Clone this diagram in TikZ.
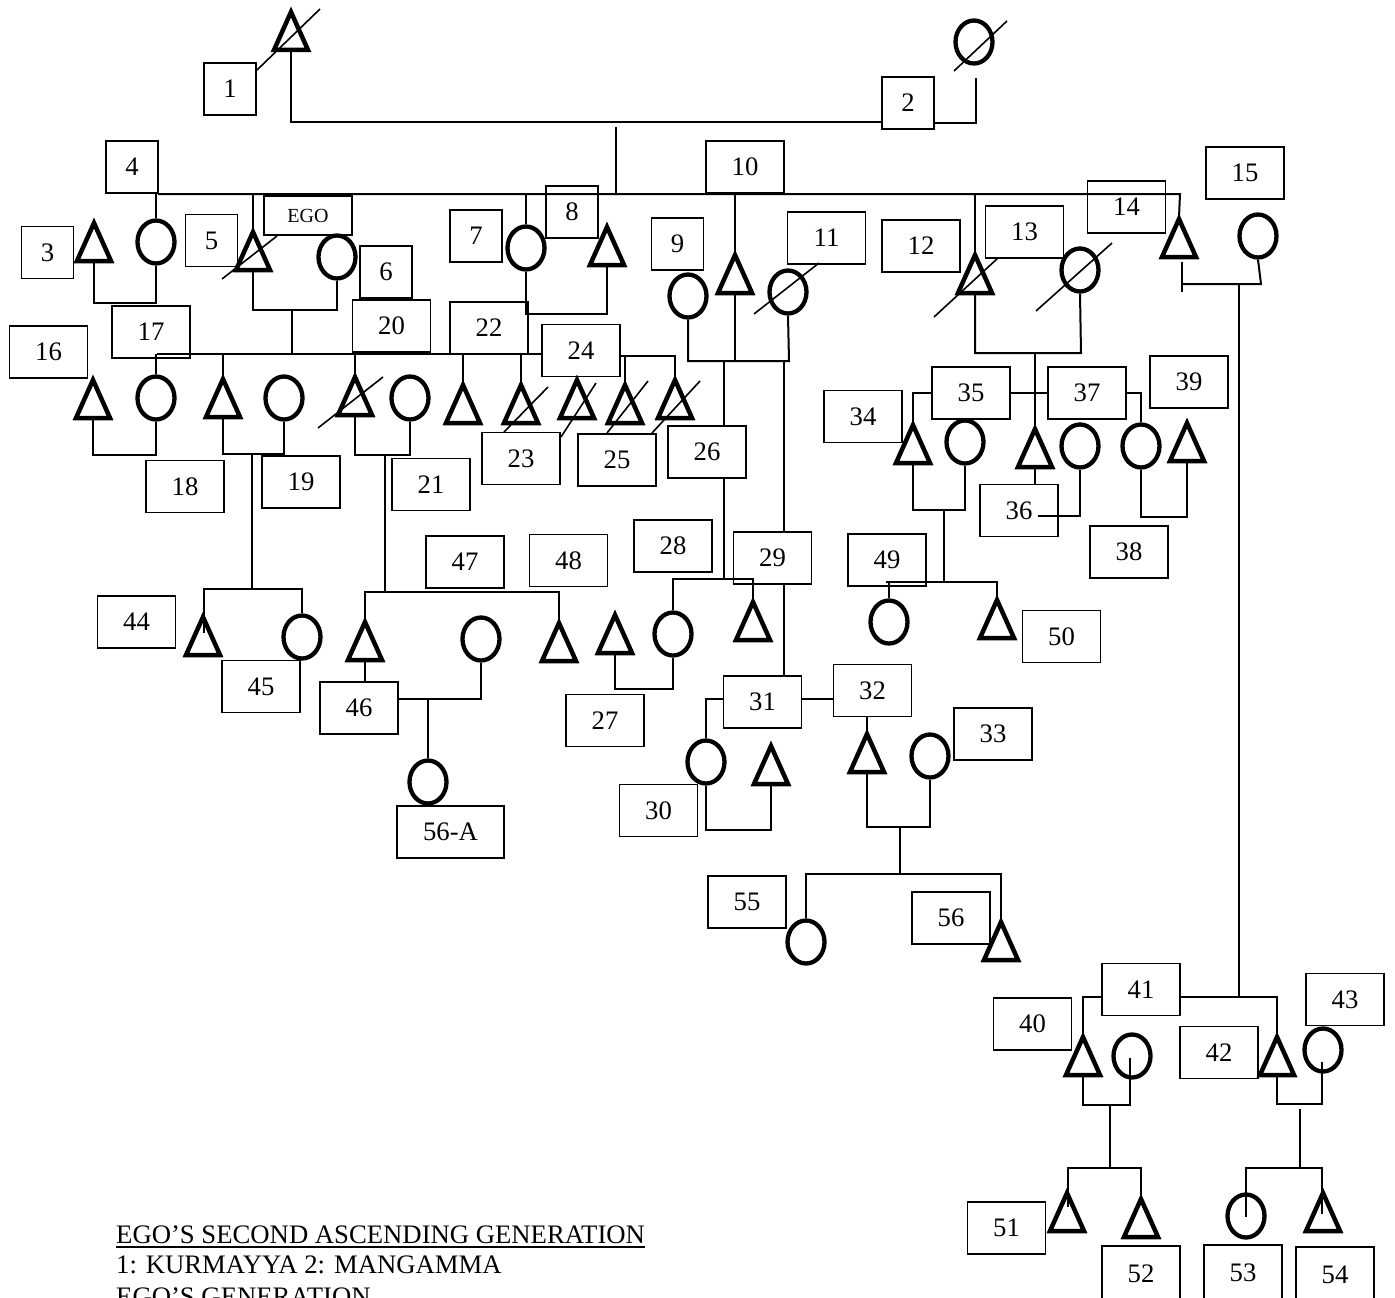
\documentclass[tikz,border=0pt]{standalone}
\usepackage{fontspec}
\setmainfont{Liberation Serif}
\usetikzlibrary{shapes.geometric}
\tikzset{
  kinbox/.style={draw, line width=1.6pt, inner sep=0pt, minimum width=78pt,
    minimum height=52pt, font=\fontsize{26.7}{30}\selectfont},
  sqbox/.style={kinbox, minimum width=52pt},
  femnode/.style={draw, ellipse, line width=4.3pt, inner sep=0pt,
    minimum width=37pt, minimum height=43pt},
  malepath/.style={line width=4.5pt},
  tie/.style={line width=2pt},
  slash/.style={line width=1.6pt},
  captext/.style={anchor=base west, inner sep=0pt, font=\fontsize{26.7}{30}\selectfont}
}
% male triangle: name, centre x, base y
\newcommand{\maletri}[3]{%
  \draw[malepath] (#2-17,#3-2) -- (#2,#3-40) -- (#2+17,#3-2) -- cycle;
  \coordinate (#1) at (#2,#3);
  \coordinate (#1 top) at (#2,#3-42);}

\begin{document}
\begin{tikzpicture}[x=1pt, y=-1pt]
\useasboundingbox (0,0) rectangle (1395,1298);

% Second ascending generation
\maletri{t1}{291}{52}
\node[femnode] (c2) at (974,42) {};
\draw[slash] (257,70) -- (320,9);
\draw[slash] (954,71) -- (1007,21);
\node[sqbox] (b1) at (230,89) {1};
\node[sqbox] (b2) at (908,103) {2};
\draw[tie] (t1) -- (291,122) -- (882,122);
\draw[tie] (934,123) -- (976,123) -- (976,78);
\draw[tie] (616,127) -- (616,194);

% First ascending generation
\node[sqbox] (b3) at (47.5,252.5) {3};
\node[sqbox] (b4) at (132,167) {4};
\node[sqbox] (b5) at (211.5,240.5) {5};
\node[kinbox, minimum width=88pt, minimum height=39pt,
  font=\fontsize{20}{22}\selectfont] (bego) at (308,215.5) {EGO};
\node[sqbox] (b6) at (386,272) {6};
\node[sqbox] (b7) at (476,236) {7};
\node[sqbox] (b8) at (572,212) {8};
\node[sqbox] (b9) at (677.5,244) {9};
\node[kinbox] (b10) at (745,167) {10};
\node[kinbox] (b11) at (826.5,238) {11};
\node[kinbox] (b12) at (921,246) {12};
\node[kinbox] (b13) at (1024.5,232) {13};
\node[kinbox] (b14) at (1126.5,207) {14};
\node[kinbox] (b15) at (1245,173) {15};
\maletri{t3}{94}{263}
\node[femnode] (c4) at (156,242) {};
\maletri{t5}{253}{272}
\node[femnode] (c6) at (337,257) {};
\node[femnode] (c7) at (526,248) {};
\maletri{t8}{607}{267}
\node[femnode] (c9) at (688,296) {};
\maletri{t10}{735}{295}
\node[femnode] (c11) at (788,292) {};
\maletri{t12}{975}{295}
\node[femnode] (c13) at (1080,270) {};
\maletri{t14}{1179}{259}
\node[femnode] (c15) at (1258,236) {};
\draw[slash] (222,279) -- (277,236);
\draw[slash] (754,314) -- (819,263);
\draw[slash] (934,317) -- (998,258);
\draw[slash] (1036,311) -- (1112,243);
% sibling line
\draw[tie] (158,194) -- (1180,194) -- (t14 top);
\draw[tie] (156,194) -- (c4.north);
\draw[tie] (253,194) -- (t5 top);
\draw[tie] (526,194) -- (c7.north);
\draw[tie] (735,194) -- (t10 top);
\draw[tie] (975,194) -- (t12 top);
% couples
\draw[tie] (t3) -- ++(0,40) -| (c4.south);
\draw[tie] (t5) -- ++(0,38) -| (c6.south);
\draw[tie] (292,311) -- (292,354);
\draw[tie] (c7.south) -- ++(0,42) -| (t8);
\draw[tie] (c9.south) -- (688,361) -- (789,361) -- (c11.south);
\draw[tie] (t10) -- (735,361);
\draw[tie] (t12) -- (975,353) -- (1081,353) -- (c13.south);
\draw[tie] (1182,262) -- (1182,292);
\draw[tie] (1182,284) -- (1261,284) -- (c15.south);
\draw[tie] (1239,284) -- (1239,997);

% Ego's generation
\node[kinbox] (b16) at (48.5,352) {16};
\node[kinbox] (b17) at (151,332) {17};
\node[kinbox] (b18) at (185,486.5) {18};
\node[kinbox] (b19) at (301,482) {19};
\node[kinbox] (b20) at (391.5,326) {20};
\node[kinbox] (b21) at (431,484.5) {21};
\node[kinbox] (b22) at (489,328) {22};
\node[kinbox] (b23) at (521,458.5) {23};
\node[kinbox] (b24) at (581,350.5) {24};
\node[kinbox] (b25) at (617,460) {25};
\node[kinbox] (b26) at (707,452) {26};
\maletri{t16}{93}{420}
\node[femnode] (c17) at (156,398) {};
\maletri{t18}{223}{419}
\node[femnode] (c19) at (284,398) {};
\maletri{t20}{355}{417}
\node[femnode] (c21) at (410,398) {};
\maletri{t22}{463}{425}
\maletri{t23}{521}{425}
\maletri{t24}{577}{420}
\maletri{t25}{625}{425}
\maletri{t26}{675}{420}
\draw[slash] (318,428) -- (383,377);
\draw[slash] (504,432) -- (548,387);
\draw[slash] (561,437) -- (596,383);
\draw[slash] (607,433) -- (648,381);
\draw[slash] (652,433) -- (700,381);
\draw[tie] (157,354) -- (542,354);
\draw[tie] (156,354) -- (c17.north);
\draw[tie] (223,354) -- (t18 top);
\draw[tie] (355,354) -- (t20 top);
\draw[tie] (463,354) -- (t22 top);
\draw[tie] (521,354) -- (t23 top);
\draw[tie] (620,356) -- (675,356) -- (t26 top);
\draw[tie] (625,356) -- (t25 top);
\draw[tie] (t16) -- ++(0,35) -| (c17.south);
\draw[tie] (t18) -- ++(0,35) -| (c19.south);
\draw[tie] (252,454) -- (252,589);
\draw[tie] (t20) -- ++(0,38) -| (c21.south);
\draw[tie] (385,455) -- (385,592);
\draw[tie] (724,361) -- (724,426);
\draw[tie] (724,478) -- (724,579);
\draw[tie] (784,361) -- (784,532);
\draw[tie] (784,584) -- (784,676);

% right branch
\node[kinbox] (b34) at (863,416.5) {34};
\node[kinbox] (b35) at (971,393) {35};
\node[kinbox] (b36) at (1019,510.5) {36};
\node[kinbox] (b37) at (1087,393) {37};
\node[kinbox] (b38) at (1129,552) {38};
\node[kinbox] (b39) at (1189,382) {39};
\maletri{t34}{913}{465}
\node[femnode] (c35) at (965,442) {};
\maletri{t36}{1035}{469}
\node[femnode] (c36) at (1080,446) {};
\node[femnode] (c38) at (1141,446) {};
\maletri{t39}{1187}{463}
\draw[tie] (1035,353) -- (t36 top);
\draw[tie] (t34 top) -- (913,393) -- (b35.west);
\draw[tie] (b35.east) -- (b37.west);
\draw[tie] (b37.east) -- (1141,393) -- (c38.north);
\draw[tie] (t34) -- ++(0,45) -| (c35.south);
\draw[tie] (944,510) -- (944,582);
\draw[tie] (t36) -- (1035,484);
\draw[tie] (1038,516) -- (1080,516) -- (c36.south);
\draw[tie] (c38.south) -- (1141,517) -- (1187,517) -- (t39);

% First descending generation
\node[kinbox] (b27) at (605,720.5) {27};
\node[kinbox] (b28) at (673,546) {28};
\node[kinbox] (b29) at (772.5,558) {29};
\node[kinbox] (b30) at (658.5,810.5) {30};
\node[kinbox] (b31) at (762.5,702) {31};
\node[kinbox] (b32) at (872.5,690.5) {32};
\node[kinbox] (b33) at (993,734) {33};
\node[kinbox] (b44) at (136.5,622) {44};
\node[kinbox] (b45) at (261,686.5) {45};
\node[kinbox] (b46) at (359,708) {46};
\node[kinbox] (b47) at (465,562) {47};
\node[kinbox] (b48) at (568.5,560.5) {48};
\node[kinbox] (b49) at (887,560) {49};
\node[kinbox] (b50) at (1061.5,636.5) {50};
\maletri{t44}{203}{657}
\node[femnode] (c45) at (302,637) {};
\maletri{t46}{365}{662}
\node[femnode] (c47) at (481,639) {};
\maletri{t48}{559}{663}
\maletri{t27}{615}{655}
\node[femnode] (c28) at (673,634) {};
\maletri{t29}{753}{642}
\node[femnode] (c49) at (889,622) {};
\maletri{t50}{997}{640}
\node[femnode] (c30) at (706,762) {};
\maletri{t31}{771}{786}
\maletri{t32}{867}{774}
\node[femnode] (c33) at (930,756) {};
\draw[tie] (204,633) -- (204,589) -- (302,589) -- (c45.north);
\draw[tie] (t46 top) -- (365,592) -- (559,592) -- (t48 top);
\draw[tie] (t46) -- (365,682);
\draw[tie] (398,699) -- (481,699) -- (c47.south);
\draw[tie] (t27) -- ++(0,34) -| (c28.south);
\draw[tie] (c28.north) -- (673,579) -- (753,579) -- (t29 top);
\draw[tie] (886,582) -- (997,582) -- (t50 top);
\draw[tie] (889,582) -- (c49.north);
\draw[tie] (b31.west |- 0,699) -- (706,699) -- (c30.north);
\draw[tie] (b31.east |- 0,699) -- (b32.west |- 0,699);
\draw[tie] (867,717) -- (t32 top);
\draw[tie] (c30.south) -- ++(0,44) -| (t31);
\draw[tie] (t32) -- ++(0,53) -| (c33.south);
\draw[tie] (900,827) -- (900,874);

% Second descending generation
\node[kinbox, minimum width=107pt] (b56a) at (450.5,832) {56-A};
\node[kinbox] (b55) at (747,902) {55};
\node[kinbox] (b56) at (951,918) {56};
\node[femnode] (c56a) at (428,782) {};
\node[femnode] (c55) at (806,942) {};
\maletri{t56}{1001}{962}
\draw[tie] (428,699) -- (c56a.north);
\draw[tie] (c55.north) -- (806,874) -- (1001,874) -- (t56 top);

% right descending branch
\node[kinbox] (b40) at (1032.5,1024) {40};
\node[kinbox] (b41) at (1141,989.5) {41};
\node[kinbox] (b42) at (1219,1052.5) {42};
\node[kinbox] (b43) at (1345,999.5) {43};
\node[kinbox] (b51) at (1006.5,1228) {51};
\node[kinbox, minimum height=56pt] (b52) at (1141,1274) {52};
\node[kinbox, minimum height=56pt] (b53) at (1243,1273) {53};
\node[kinbox, minimum height=56pt] (b54) at (1335,1275) {54};
\maletri{t40}{1083}{1077}
\node[femnode] (c41) at (1132,1056) {};
\maletri{t42}{1277}{1077}
\node[femnode] (c43) at (1323,1050) {};
\maletri{t51}{1067}{1233}
\maletri{t52}{1141}{1239}
\node[femnode] (c53) at (1246,1216) {};
\maletri{t54}{1323}{1233}
\draw[tie] (t40 top) -- (1083,997) -- (1102,997);
\draw[tie] (1180,997) -- (1277,997) -- (t42 top);
\draw[tie] (t40) -- (1083,1105) -- (1130,1105) -- (1130,1058);
\draw[tie] (1110,1105) -- (1110,1168);
\draw[tie] (1068,1207) -- (1068,1168) -- (1141,1168) -- (t52 top);
\draw[tie] (t42) -- (1277,1104) -- (1322,1104) -- (1322,1062);
\draw[tie] (1300,1109) -- (1300,1168);
\draw[tie] (1246,1217) -- (1246,1168) -- (1322,1168) -- (1322,1214);

% Captions
\node[captext] (cap1) at (116,1243) {EGO’S SECOND ASCENDING GENERATION};
\draw[line width=1.6pt] ([yshift=-4pt]cap1.base west) -- ([yshift=-4pt]cap1.base east);
\node[captext] (cap2) at (116,1273) {1: KURMAYYA 2: MANGAMMA};
\node[captext] (cap3) at (116,1305) {EGO’S GENERATION};
\end{tikzpicture}
\end{document}
